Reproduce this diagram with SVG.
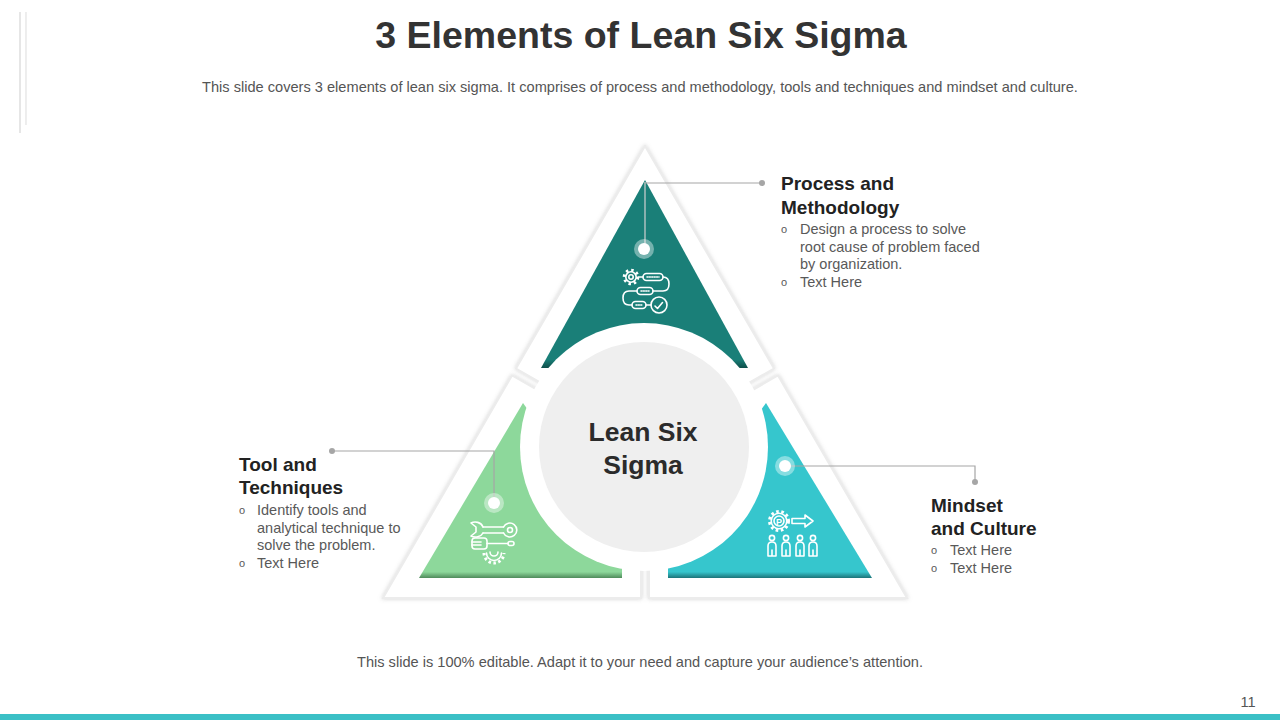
<svg xmlns="http://www.w3.org/2000/svg" width="1280" height="720" viewBox="0 0 1280 720">
  <defs>
    <filter id="sh" x="-10%" y="-10%" width="120%" height="120%">
      <feDropShadow dx="0" dy="0" stdDeviation="2" flood-color="#9a9a9a" flood-opacity="0.45"/>
    </filter>
    <linearGradient id="gTeal" x1="0" y1="0" x2="0" y2="1">
      <stop offset="0" stop-color="#1A7F78"/>
      <stop offset="0.955" stop-color="#1A7F78"/>
      <stop offset="1" stop-color="#0E4F4A"/>
    </linearGradient>
    <linearGradient id="gGreen" x1="0" y1="0" x2="0" y2="1">
      <stop offset="0" stop-color="#8DD89B"/>
      <stop offset="0.965" stop-color="#8DD89B"/>
      <stop offset="1" stop-color="#4F8B5B"/>
    </linearGradient>
    <linearGradient id="gCyan" x1="0" y1="0" x2="0" y2="1">
      <stop offset="0" stop-color="#36C6CD"/>
      <stop offset="0.965" stop-color="#36C6CD"/>
      <stop offset="1" stop-color="#1C7479"/>
    </linearGradient>
    <style>
      .piece { fill: #ffffff; stroke: #ececec; stroke-width: 2; filter: url(#sh); }
      .ic { fill: none; stroke: #ffffff; stroke-width: 1.6; stroke-linecap: round; stroke-linejoin: round; }
      .teeth { fill: none; stroke: #ffffff; stroke-width: 3; }
      .conn { fill: none; stroke: #a6a6a6; stroke-width: 1.2; }
      .connIn { fill: none; stroke: #d0d0d0; stroke-width: 1.2; }
      .dot { fill: #a6a6a6; }
      .mk-o { fill: #ffffff; fill-opacity: 0.4; }
      .mk-i { fill: #ffffff; }
      .title { font-family: "Liberation Sans", Arial, sans-serif; font-weight: bold; font-size: 37.5px; fill: #333333; }
      .sub { font-family: "Liberation Sans", Arial, sans-serif; font-size: 14.6px; fill: #555555; }
      .head { font-family: "Liberation Sans", Arial, sans-serif; font-weight: bold; font-size: 19px; fill: #222222; }
      .body { font-family: "Liberation Sans", Arial, sans-serif; font-size: 14.5px; fill: #595959; }
      .bul { font-family: "Liberation Sans", Arial, sans-serif; font-size: 11px; fill: #595959; }
      .center { font-family: "Liberation Sans", Arial, sans-serif; font-weight: bold; font-size: 26.5px; fill: #2b2b2b; }
    </style>
  </defs>

  <rect width="1280" height="720" fill="#ffffff"/>

  <!-- decorative left lines -->
  <line x1="20" y1="12" x2="20" y2="133" stroke="#d6d6d6" stroke-width="1.2"/>
  <line x1="26" y1="12" x2="26" y2="125" stroke="#e2e2e2" stroke-width="1.2"/>

  <!-- bottom bar -->
  <rect x="0" y="714" width="1280" height="6" fill="#3BC0C6"/>

  <!-- title -->
  <text class="title" x="641" y="48" text-anchor="middle">3 Elements of Lean Six Sigma</text>
  <text class="sub" x="640" y="92" text-anchor="middle">This slide covers 3 elements of lean six sigma. It comprises of process and methodology, tools and techniques and mindset and culture.</text>

  <!-- outer pieces -->
  <g id="outer">
    <polygon class="piece" points="645,146 516,368.5 645,442.4 774,368.5"/>
    <polygon class="piece" points="383,598 512,375.5 641,449.4 641,598"/>
    <polygon class="piece" points="907,598 778,375.5 649,449.4 649,598"/>
  </g>

  <!-- colored triangles -->
  <g id="node-process">
    <polygon points="645,180 541,368 748,368" fill="url(#gTeal)"/>
  </g>
  <g id="node-tools">
    <polygon points="523,403 419,578 622,578 622,540" fill="url(#gGreen)"/>
  </g>
  <g id="node-mindset">
    <polygon points="766,403 872,578 668,578 668,540" fill="url(#gCyan)"/>
  </g>

  <!-- center -->
  <g id="node-center">
    <circle cx="644" cy="447" r="124" fill="#ffffff"/>
    <circle cx="644" cy="447" r="105" fill="#efefef"/>
    <text class="center" x="643" y="441" text-anchor="middle">Lean Six</text>
    <text class="center" x="643" y="474" text-anchor="middle">Sigma</text>
  </g>

  <!-- connectors -->
  <g id="connectors">
    <polyline class="connIn" points="645,182 645,249"/>
    <polyline class="conn" points="645,183 762,183"/>
    <circle class="dot" cx="762" cy="183" r="3"/>

    <polyline class="conn" points="332,451 494,451 494,503"/>
    <circle class="dot" cx="332" cy="451" r="3"/>

    <polyline class="conn" points="785,466 975,466 975,482"/>
    <circle class="dot" cx="975" cy="482" r="3"/>

    <circle class="mk-o" cx="644" cy="249" r="10"/>
    <circle class="mk-i" cx="644" cy="249" r="6"/>
    <circle class="mk-o" cx="494" cy="503" r="10"/>
    <circle class="mk-i" cx="494" cy="503" r="6"/>
    <circle class="mk-o" cx="785" cy="466" r="10"/>
    <circle class="mk-i" cx="785" cy="466" r="6"/>
  </g>

  <!-- icon: process -->
  <g id="icon-process">
    <circle class="teeth" cx="631" cy="277" r="6.8" stroke-dasharray="2.4 2.94"/>
    <circle class="ic" cx="631" cy="277" r="5.2"/>
    <circle class="ic" cx="631" cy="277" r="2.2"/>
    <line class="ic" x1="638" y1="277" x2="643" y2="277"/>
    <rect class="ic" x="643" y="273.5" width="20" height="7" rx="3.5"/>
    <line class="ic" x1="647" y1="277" x2="659" y2="277" stroke-dasharray="1 1.4" stroke-width="1.2"/>
    <path class="ic" d="M663,277 q6,0 6,7 q0,7 -6,7 h-10"/>
    <rect class="ic" x="637" y="287.5" width="16" height="7" rx="3.5"/>
    <line class="ic" x1="641" y1="291" x2="649" y2="291" stroke-dasharray="1 1.4" stroke-width="1.2"/>
    <path class="ic" d="M637,291 h-8 q-6,0 -6,7 q0,7 6,7 h3"/>
    <rect class="ic" x="632" y="301.5" width="14" height="7" rx="3.5"/>
    <line class="ic" x1="636" y1="305" x2="642" y2="305" stroke-dasharray="1 1.4" stroke-width="1.2"/>
    <line class="ic" x1="646" y1="305" x2="651" y2="305"/>
    <circle class="ic" cx="659" cy="305" r="8"/>
    <path class="ic" d="M655,306 l2.5,2.5 l5,-6"/>
  </g>

  <!-- icon: tools -->
  <g id="icon-tools">
    <path class="ic" d="M483,527 C481,522 475,521 471,523 L476,527 L476,532 L471,536 C475,538 481,537 483,533"/>
    <line class="ic" x1="483" y1="527" x2="503.5" y2="527"/>
    <line class="ic" x1="483" y1="533" x2="503.5" y2="533"/>
    <path class="ic" d="M503.5,527 A7,7 0 1 1 503.5,533"/>
    <circle class="ic" cx="510" cy="530" r="2.5"/>
    <rect class="ic" x="472" y="538" width="15" height="11" rx="3"/>
    <line class="ic" x1="472" y1="542" x2="481" y2="542"/>
    <line class="ic" x1="472" y1="545" x2="481" y2="545"/>
    <line class="ic" x1="487" y1="543.5" x2="508" y2="543.5"/>
    <rect class="ic" x="508" y="541.5" width="6" height="4" rx="2"/>
    <path class="teeth" d="M484,553 A10,10 0 0 0 504,553" stroke-dasharray="2.5 2.5"/>
    <path class="ic" d="M486.5,553 A7.5,7.5 0 0 0 501.5,553"/>
    <path class="ic" d="M490,552 A4,4 0 0 0 498,552"/>
  </g>

  <!-- icon: mindset -->
  <g id="icon-mindset">
    <circle class="teeth" cx="779" cy="521" r="9.5" stroke-dasharray="2.6 2.6"/>
    <circle class="ic" cx="779" cy="521" r="7.8"/>
    <circle class="ic" cx="779" cy="521" r="5"/>
    <text x="779" y="524.5" text-anchor="middle" font-family="Liberation Sans, Arial, sans-serif" font-size="9" font-weight="bold" fill="#ffffff">P</text>
    <path class="ic" d="M792,518.5 h13 v-3.5 l8,6 l-8,6 v-3.5 h-13 z"/>
    <g class="ic">
      <circle cx="772" cy="538" r="2.6"/>
      <path d="M768,556 v-10 q0,-4 4,-4 q4,0 4,4 v10 z M772,550 v6"/>
      <circle cx="786" cy="538" r="2.6"/>
      <path d="M782,556 v-10 q0,-4 4,-4 q4,0 4,4 v10 z M786,550 v6"/>
      <circle cx="800" cy="538" r="2.6"/>
      <path d="M796,556 v-10 q0,-4 4,-4 q4,0 4,4 v10 z M800,550 v6"/>
      <circle cx="813" cy="538" r="2.6"/>
      <path d="M809,556 v-10 q0,-4 4,-4 q4,0 4,4 v10 z M813,550 v6"/>
    </g>
  </g>

  <!-- text: process -->
  <g id="label-process">
    <text class="head" x="781" y="190">Process and</text>
    <text class="head" x="781" y="214">Methodology</text>
    <text class="bul" x="781" y="233">o</text>
    <text class="body" x="800" y="234">Design a process to solve</text>
    <text class="body" x="800" y="252">root cause of problem faced</text>
    <text class="body" x="800" y="269">by organization.</text>
    <text class="bul" x="781" y="286">o</text>
    <text class="body" x="800" y="287">Text Here</text>
  </g>

  <!-- text: tools -->
  <g id="label-tools">
    <text class="head" x="239" y="471">Tool and</text>
    <text class="head" x="239" y="494">Techniques</text>
    <text class="bul" x="239" y="514">o</text>
    <text class="body" x="257" y="515">Identify tools and</text>
    <text class="body" x="257" y="533">analytical technique to</text>
    <text class="body" x="257" y="550">solve the problem.</text>
    <text class="bul" x="239" y="567">o</text>
    <text class="body" x="257" y="568">Text Here</text>
  </g>

  <!-- text: mindset -->
  <g id="label-mindset">
    <text class="head" x="931" y="512">Mindset</text>
    <text class="head" x="931" y="535">and Culture</text>
    <text class="bul" x="931" y="554">o</text>
    <text class="body" x="950" y="555">Text Here</text>
    <text class="bul" x="931" y="572">o</text>
    <text class="body" x="950" y="573">Text Here</text>
  </g>

  <text class="sub" x="640" y="667" text-anchor="middle">This slide is 100% editable. Adapt it to your need and capture your audience’s attention.</text>
  <text class="sub" x="1248" y="707" text-anchor="middle" fill="#333333">11</text>
</svg>
